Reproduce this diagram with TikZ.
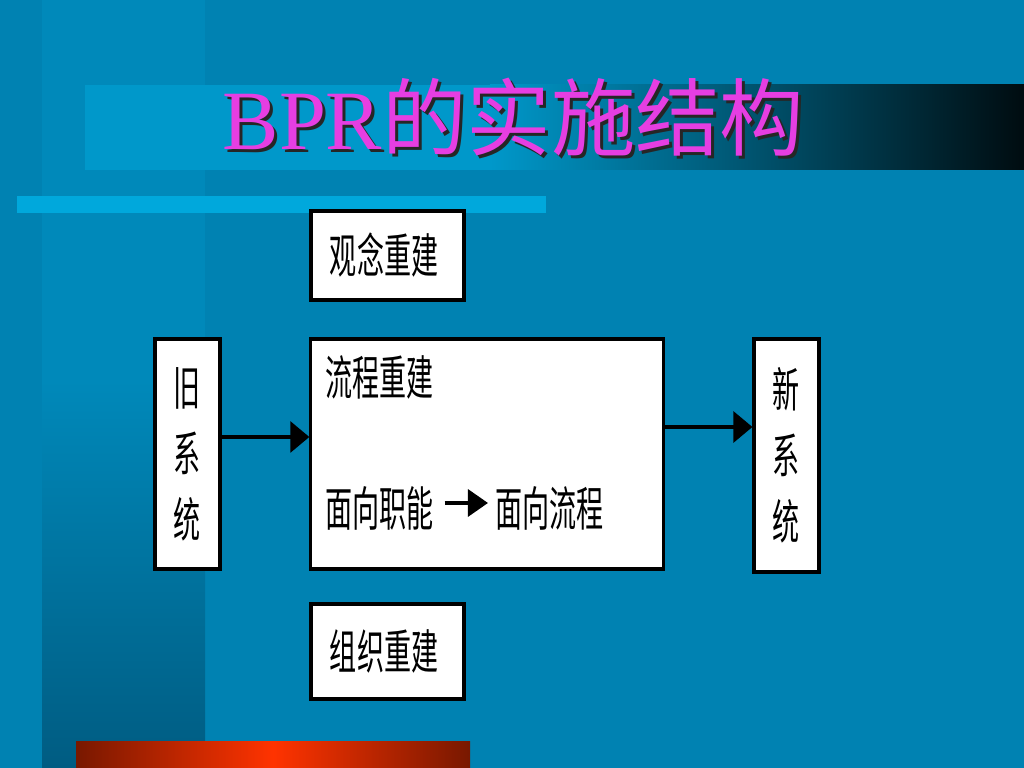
\documentclass[tikz,border=0pt]{standalone}
\usepackage{fontspec}
\usepackage{graphicx}
\setmainfont{Liberation Serif}
\newfontfamily\cjk{Noto Sans CJK SC}
\usetikzlibrary{arrows.meta}
\definecolor{slidebg}{RGB}{0,130,178}
\definecolor{coltop}{RGB}{0,137,186}
\definecolor{colbot}{RGB}{0,92,130}
\definecolor{bandlight}{RGB}{0,152,202}
\definecolor{barcyan}{RGB}{0,168,220}
\definecolor{titlepink}{RGB}{230,62,226}
\definecolor{reddark}{RGB}{120,24,0}
\definecolor{redlight}{RGB}{255,51,0}
\newcommand{\sq}[1]{\scalebox{0.57}[1]{#1}}
\newcommand{\boxfont}{\cjk\fontsize{13.5}{18.8}\selectfont}
\newcommand{\titlefont}{\fontsize{24}{28}\selectfont}
\begin{document}
\begin{tikzpicture}[x=0.01cm,y=-0.01cm,
    box/.style={draw=black,fill=white,line width=0.9pt,inner sep=0pt,font=\boxfont},
    boxtext/.style={anchor=west,inner sep=0pt,font=\boxfont},
    arr/.style={line width=0.9pt,-{Triangle[length=5.4pt,width=8.8pt]}},
    textarr/.style={line width=0.9pt,-{Triangle[length=5.7pt,width=7.7pt]}}]
    \useasboundingbox (0,0) rectangle (1024,768);
    \fill[slidebg] (0,0) rectangle (1024,768);
    \fill[coltop] (42,0) rectangle (205,380);
    \shade[top color=coltop,bottom color=colbot] (42,380) rectangle (205,768);
    \fill[bandlight] (85,85) rectangle (490,170);
    \shade[left color=bandlight,right color=black!92!bandlight] (490,85) rectangle (1024,170);
    \fill[barcyan] (17,196) rectangle (546,213);
    \shade[left color=reddark,right color=reddark,middle color=redlight] (76,742) rectangle (470,768);
    \node[anchor=base west,inner sep=0pt,text=black!85,font=\titlefont] (titleshadow) at (225,153) {BPR{\cjk 的实施结构}};
    \node[anchor=base west,inner sep=0pt,text=titlepink,font=\titlefont] (title) at (222,150) {BPR{\cjk 的实施结构}};
    \node[box,text width=1.15cm,inner xsep=0.19cm,minimum height=0.89cm,align=left] (idea) at (387.5,255.5) {\sq{观念重建}};
    \node[box,minimum width=3.52cm,minimum height=2.30cm] (flow) at (487,454) {};
    \node[box,text width=1.15cm,inner xsep=0.19cm,minimum height=0.95cm,align=left] (org) at (387.5,651.5) {\sq{组织重建}};
    \node[box,minimum width=0.65cm,minimum height=2.30cm,align=center] (old) at (187.5,454) {\sq{旧}\\\sq{系}\\\sq{统}};
    \node[box,minimum width=0.65cm,minimum height=2.33cm,align=center] (new) at (786.5,455.5) {\sq{新}\\\sq{系}\\\sq{统}};
    \node[boxtext] (flowname) at (325,377) {\sq{流程重建}};
    \node[boxtext] (fromfunc) at (325,508) {\sq{面向职能}};
    \node[boxtext] (toproc) at (495,508) {\sq{面向流程}};
    \draw[textarr,shorten >=2pt] (fromfunc.east) ++(10,-5) coordinate (mid) -- (mid -| toproc.west);
    \draw[arr] (old.east) ++(0,-17) coordinate (inpt) -- (inpt -| flow.west);
    \draw[arr] (flow.east) ++(0,-27) coordinate (outpt) -- (outpt -| new.west);
\end{tikzpicture}
\end{document}
